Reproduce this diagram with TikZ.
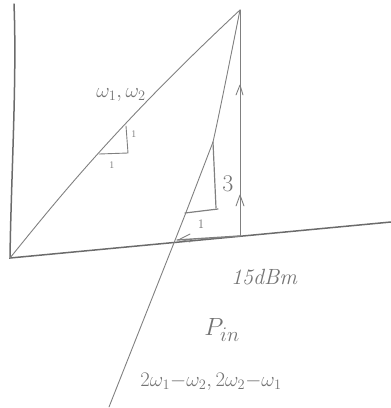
\documentclass[tikz,border=0pt]{standalone}
\usetikzlibrary{arrows.meta}
\begin{document}
\begin{tikzpicture}[x=1pt,y=-1pt,
  pencil/.style={draw=black!50,line width=0.9pt,line cap=round,line join=round},
  axis/.style={draw=black!58,line width=1.5pt,line cap=round},
  lbl/.style={text=black!55,inner sep=0pt}]
\useasboundingbox (0,0) rectangle (391,408);
\coordinate (Ytop) at (14,4);
\coordinate (O) at (10,258);
\coordinate (Xend) at (391,222);
\coordinate (T) at (240,10);
\coordinate (V) at (240,236);
\coordinate (B) at (109,407);
\coordinate (X3) at (177,240);
% axes
\draw[axis] (Ytop) .. controls (17,80) and (11,180) .. (O) -- (Xend);
% fundamental line
\draw[pencil] (O) .. controls (60,196) and (120,122) .. (T);
% third-order line
\draw[pencil] (T) .. controls (228,70) and (218,120) .. (213,142) -- (185,215) -- (B);
% vertical arrow line
\draw[pencil,line width=1pt] (T) -- (V);
\draw[pencil] (236,95) -- (240,85) -- (243,95);
\draw[pencil] (236,206) -- (240,195) -- (244,206);
% horizontal bracket
\draw[pencil,line width=1.4pt] (X3) -- (V);
\draw[pencil] (190,234) -- (180,239) -- (190,242);
% slope triangle 1
\draw[pencil] (99,154) -- (128,153) -- (126,126);
\node[lbl] (one1) at (112,165) {\fontsize{10}{10}\selectfont 1};
\node[lbl] (one2) at (134,134) {\fontsize{10}{10}\selectfont 1};
% slope triangle 2
\draw[pencil,line width=1.2pt] (185,213) -- (218,209);
\draw[pencil,line width=1.2pt] (213,142) -- (216,208);
\node[lbl] (three) at (228,184) {\fontsize{24}{24}\selectfont 3};
\node[lbl] (one3) at (201,224) {\fontsize{13}{13}\selectfont 1};
% labels
\node[lbl] (w12) at (121,95) {\fontsize{21}{21}\selectfont $\omega_1,\omega_2$};
\node[lbl] (dbm) at (264,277) {\fontsize{22}{22}\selectfont\itshape 15dBm};
\node[lbl] (pin) at (222,330) {\fontsize{32}{32}\selectfont $P_{in}$};
\node[lbl] (im3) at (211,382) {\fontsize{22}{22}\selectfont $2\omega_1{-}\omega_2,2\omega_2{-}\omega_1$};
\end{tikzpicture}
\end{document}
